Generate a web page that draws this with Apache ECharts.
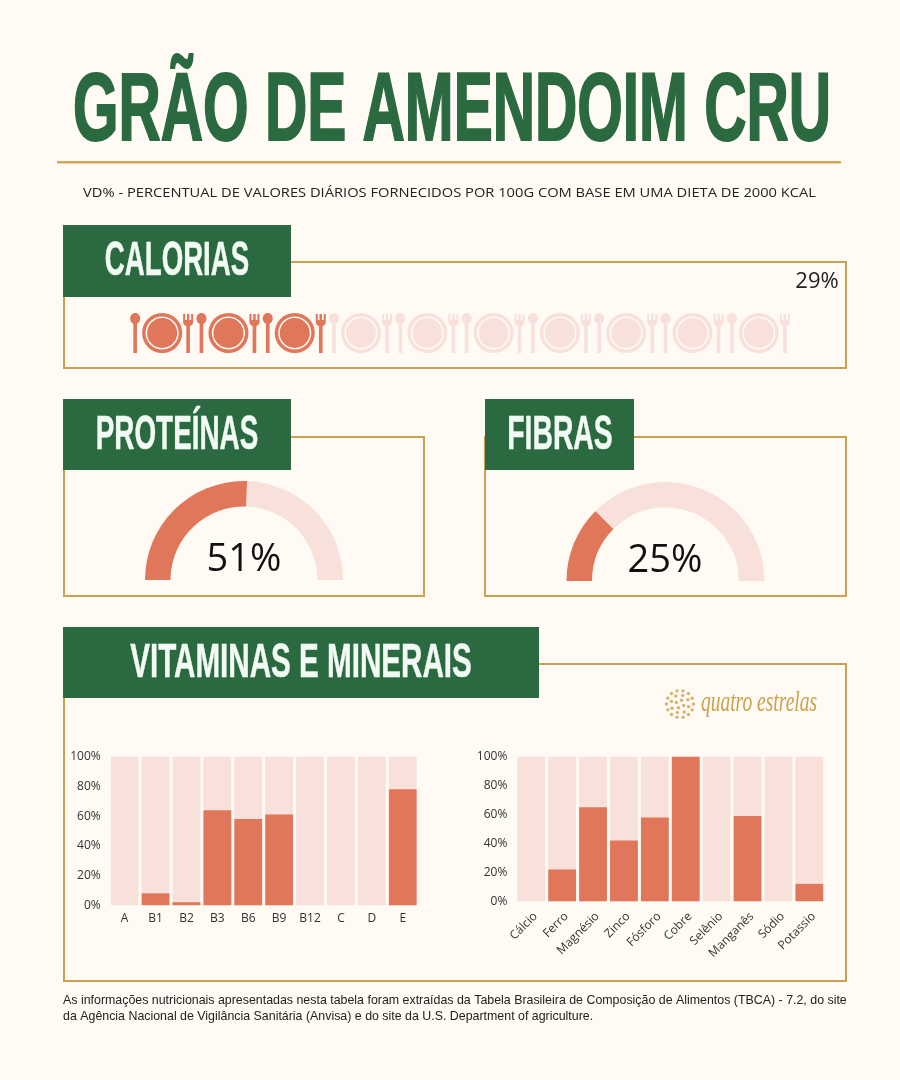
<!DOCTYPE html>
<html>
<head>
<meta charset="utf-8">
<title>Grão de amendoim cru</title>
<script src="https://cdn.jsdelivr.net/npm/echarts@6/dist/echarts.min.js"></script>
<style>
  html, body { margin: 0; padding: 0; background: #FFFAF3; }
  #chart { width: 900px; height: 1080px; }
</style>
</head>
<body>
<div id="chart"></div>
<script>
const vitaminNames = ['A', 'B1', 'B2', 'B3', 'B6', 'B9', 'B12', 'C', 'D', 'E']
const vitaminValues = [0, 8, 2, 64, 58, 61, 0, 0, 0, 78]
const mineralNames = ['Cálcio', 'Ferro', 'Magnésio', 'Zinco', 'Fósforo', 'Cobre', 'Selênio', 'Manganês', 'Sódio', 'Potassio']
const mineralValues = [0, 22, 65, 42, 58, 100, 0, 59, 0, 12]
const percentTicks = [0, 20, 40, 60, 80, 100]
const caloriesPercent = 29
const calorieIconsTotal = 10
const calorieIconsFilled = 3
const proteinPercent = 51
const fiberPercent = 25

const GREEN = '#2B6A40'
const GOLD = '#C9A24F'
const ORANGE = '#E0775A'
const LIGHT = '#F8E1DB'
const HEADER_TEXT = '#F2FBF3'
const NARROW = '"Liberation Sans Narrow", "Liberation Sans", sans-serif'
const BODY = '"Open Sans", "Noto Sans", sans-serif'

// prato com colher e garfo, desenhado numa caixa de 63x40
const mealIcon = 'path://' +
  'M5 0C8 0 10 2.5 10 5.5C10 8 8.6 10 6.8 10.8V40H3.2V10.8C1.4 10 0 8 0 5.5C0 2.5 2 0 5 0Z' +
  'M32 0A20 20 0 1 1 32 40A20 20 0 1 1 32 0Z' +
  'M32 3.4A16.6 16.6 0 1 0 32 36.6A16.6 16.6 0 1 0 32 3.4Z' +
  'M32 5A15 15 0 1 1 32 35A15 15 0 1 1 32 5Z' +
  'M53 1H55V7H56.8V1H59.2V7H61V1H63V9C63 11 61.6 12.6 59.8 13V40H56.2V13C54.4 12.6 53 11 53 9Z'

function panel(x, y, w, h) {
  return { type: 'rect', z: 1, shape: { x, y, width: w, height: h }, style: { fill: 'none', stroke: GOLD, lineWidth: 2 } }
}
function header(x, y, w, h, text, cx, cy, scaleX) {
  return [
    { type: 'rect', z: 2, shape: { x, y, width: w, height: h }, style: { fill: GREEN } },
    condensed(text, cx, cy, 48, scaleX, HEADER_TEXT, 0.5)
  ]
}
function condensed(text, x, y, size, scaleX, fill, weight) {
  return {
    type: 'text', z: 3, x, y, scaleX,
    style: {
      text, fill, stroke: fill, lineWidth: weight,
      font: 'bold ' + size + 'px ' + NARROW, textAlign: 'center', textVerticalAlign: 'middle'
    }
  }
}
function label(text, x, y, font, fill, align, scaleX) {
  return {
    type: 'text', z: 3, x, y, scaleX: scaleX || 1,
    style: { text, fill, font, textAlign: align || 'left', textVerticalAlign: 'middle' }
  }
}

// logotipo: flor de pontos e nome em itálico
function logo(cx, cy) {
  const dots = []
  const rings = [[4, 4, 0.4], [9, 8, 0.3], [13.5, 14, 0]]
  rings.forEach(r => {
    for (let i = 0; i < r[1]; i++) {
      const a = r[2] + i / r[1] * Math.PI * 2
      dots.push({
        type: 'circle', z: 3,
        shape: { cx: cx + Math.cos(a) * r[0], cy: cy + Math.sin(a) * r[0], r: 1.7 },
        style: { fill: GOLD, opacity: 0.8 }
      })
    }
  })
  return dots
}

function pieSeries(center, value) {
  return {
    type: 'pie', center, radius: [73.5, 99], startAngle: 180, silent: true,
    label: { show: false }, labelLine: { show: false },
    data: [
      { value, itemStyle: { color: ORANGE } },
      { value: 100 - value, itemStyle: { color: LIGHT } },
      { value: 100, itemStyle: { color: 'none' } }
    ]
  }
}
function barSeries(xAxisIndex, yAxisIndex, data) {
  return {
    type: 'bar', xAxisIndex, yAxisIndex, data, barWidth: 27.8, silent: true,
    itemStyle: { color: ORANGE },
    showBackground: true, backgroundStyle: { color: LIGHT }
  }
}
function catAxis(gridIndex, data, rotate) {
  return {
    type: 'category', gridIndex, data,
    axisLine: { show: false }, axisTick: { show: false },
    axisLabel: {
      color: '#333', fontFamily: BODY, fontSize: 12, rotate, margin: rotate ? 9 : 7, interval: 0,
      verticalAlign: rotate ? 'top' : undefined
    }
  }
}
function pctAxis(gridIndex) {
  return {
    type: 'value', gridIndex, min: percentTicks[0], max: percentTicks[5], interval: percentTicks[1],
    axisLine: { show: false }, axisTick: { show: false }, splitLine: { show: false },
    axisLabel: { color: '#333', fontFamily: BODY, fontSize: 12, margin: 8.5, formatter: '{value}%' }
  }
}
function iconSeries(count, color, z) {
  return {
    type: 'pictorialBar', xAxisIndex: 2, yAxisIndex: 2, silent: true, barGap: '-100%',
    data: [count], symbol: mealIcon, symbolSize: [63, 40],
    symbolRepeat: count, symbolBoundingData: count, symbolMargin: '1.65!', symbolPosition: 'start',
    itemStyle: { color }, z
  }
}

const option = {
  animation: false,
  backgroundColor: '#FFFAF3',
  grid: [
    { left: 109.2, width: 309, top: 756.7, height: 148.5 },
    { left: 515.8, width: 309, top: 756.7, height: 144.5 },
    { left: 128.5, width: 663, top: 313, height: 40 }
  ],
  xAxis: [
    catAxis(0, vitaminNames, 0),
    catAxis(1, mineralNames, 45),
    { type: 'value', gridIndex: 2, min: 0, max: calorieIconsTotal, show: false }
  ],
  yAxis: [
    pctAxis(0),
    pctAxis(1),
    { type: 'category', gridIndex: 2, data: ['calorias'], show: false }
  ],
  series: [
    barSeries(0, 0, vitaminValues),
    barSeries(1, 1, mineralValues),
    iconSeries(calorieIconsTotal, LIGHT, 2),
    iconSeries(calorieIconsFilled, ORANGE, 3),
    pieSeries([244, 580], proteinPercent),
    pieSeries([665.5, 581], fiberPercent)
  ],
  graphic: [
    condensed('GRÃO DE AMENDOIM CRU', 452, 114, 96, 0.61, GREEN, 2),
    { type: 'rect', z: 1, shape: { x: 57, y: 161, width: 784, height: 2.5 }, style: { fill: '#D0A95C' } },
    label('VD% - PERCENTUAL DE VALORES DIÁRIOS FORNECIDOS POR 100G COM BASE EM UMA DIETA DE 2000 KCAL', 449.5, 193, '13px ' + BODY, '#222', 'center', 1.13),

    panel(64, 262, 782, 106),
    ...header(63, 225, 228, 72, 'CALORIAS', 177, 262, 0.576),
    label(caloriesPercent + '%', 817, 282, '22px ' + BODY, '#222', 'center'),

    panel(64, 437, 360, 159),
    ...header(63, 399, 228, 71, 'PROTEÍNAS', 177, 436, 0.58),
    label(proteinPercent + '%', 244, 560, '38px ' + BODY, '#111', 'center'),

    panel(485, 437, 361, 159),
    ...header(485, 399, 149, 71, 'FIBRAS', 560, 436, 0.59),
    label(fiberPercent + '%', 665, 561, '38px ' + BODY, '#111', 'center'),

    panel(64, 664, 782, 317),
    ...header(63, 627, 476, 71, 'VITAMINAS E MINERAIS', 301, 664, 0.617),

    ...logo(680, 704),
    {
      type: 'text', z: 3, x: 759, y: 703, scaleX: 0.65,
      style: { text: 'quatro estrelas', fill: GOLD, font: 'italic 30px "Liberation Serif", serif', textAlign: 'center', textVerticalAlign: 'middle' }
    },

    label('As informações nutricionais apresentadas nesta tabela foram extraídas da Tabela Brasileira de Composição de Alimentos (TBCA) - 7.2, do site', 63, 1001, '12.4px "Liberation Sans", Arial, sans-serif', '#222'),
    label('da Agência Nacional de Vigilância Sanitária (Anvisa) e do site da U.S. Department of agriculture.', 63, 1017, '12.4px "Liberation Sans", Arial, sans-serif', '#222')
  ]
}

const chart = echarts.init(document.getElementById('chart'))
chart.setOption(option)
</script>
</body>
</html>
